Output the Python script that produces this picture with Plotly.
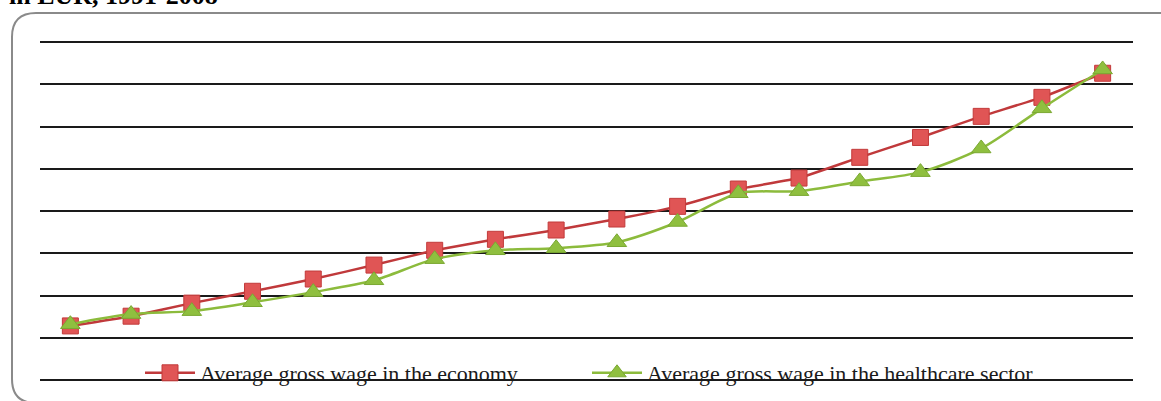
import plotly.graph_objects as go

years = [str(y) for y in range(1991, 2009)]
economy = [128, 151, 182, 210, 239, 272, 307, 333, 355, 381, 411, 452, 478, 527, 574, 624, 669, 726]
healthcare = [132, 156, 163, 184, 208, 236, 286, 307, 312, 326, 374, 442, 447, 470, 492, 548, 643, 735]
series_names = ["Average gross wage in the economy", "Average gross wage in the healthcare sector"]
title_text = "in EUR, 1991-2008"

W, H = 1161, 401
L, R = 40, 28
pw = W - L - R
# vertical scale: value 0 at pixel 380, 100 units per 42.25 px; plot area spans full height
Y0PX, UNIT = 380, 42.25
ymax = Y0PX / UNIT * 100
ymin = -(H - Y0PX) / UNIT * 100

def px(x):
    return (x - L) / pw

def py(y):
    return (H - y) / H

fig = go.Figure()
fig.add_trace(go.Scatter(
    x=list(range(len(years))), y=economy, name=series_names[0], mode="lines+markers",
    line=dict(color="#c0393b", width=2.5, shape="spline", smoothing=0.3),
    marker=dict(symbol="square", size=16, color="#e05555", line=dict(color="#c23a3a", width=1)),
))
fig.add_trace(go.Scatter(
    x=list(range(len(years))), y=healthcare, name=series_names[1], mode="lines+markers",
    line=dict(color="#8cbb3c", width=2.5, shape="spline", smoothing=0.8),
    marker=dict(symbol="triangle-up", size=17, color="#8fbf3f", line=dict(color="#7aa832", width=1)),
))

# rounded border
x0, x1 = 12, 1175
y0, y1 = 13, 403
r = 24
path = (f"M {px(x0+r)},{py(y0)} L {px(x1)},{py(y0)} "
        f"M {px(x0)},{py(y0+r)} Q {px(x0)},{py(y0)} {px(x0+r)},{py(y0)} "
        f"M {px(x0)},{py(y0+r)} L {px(x0)},{py(y1-r)} Q {px(x0)},{py(y1)} {px(x0+r)},{py(y1)} L {px(x1)},{py(y1)}")
fig.add_shape(type="path", path=path, xref="paper", yref="paper",
              line=dict(color="#8a8a8a", width=2), layer="below")

fig.add_annotation(text="<b>" + title_text + "</b>", xref="paper", yref="paper",
                   x=px(7), y=py(12), xanchor="left", yanchor="bottom", showarrow=False,
                   font=dict(family="Liberation Serif", size=26, color="#000000"))

fig.update_layout(
    width=W, height=H,
    margin=dict(l=L, r=R, t=0, b=0),
    paper_bgcolor="white", plot_bgcolor="white",
    showlegend=True,
    legend=dict(orientation="h", x=px(587), xanchor="center", y=py(373), yanchor="middle",
                font=dict(family="Liberation Serif", size=22, color="#1a1a1a"),
                bgcolor="rgba(0,0,0,0)", itemwidth=50,
                entrywidth=382, entrywidthmode="pixels"),
    xaxis=dict(range=[-0.5, 17.5], showgrid=False, showticklabels=False, zeroline=False,
               showline=False, ticks=""),
    yaxis=dict(range=[ymin, ymax], tickvals=[0, 100, 200, 300, 400, 500, 600, 700, 800],
               showgrid=True, gridcolor="#1a1a1a", gridwidth=2,
               showticklabels=False, zeroline=False, showline=False, ticks=""),
)

fig.write_html("out.html")
